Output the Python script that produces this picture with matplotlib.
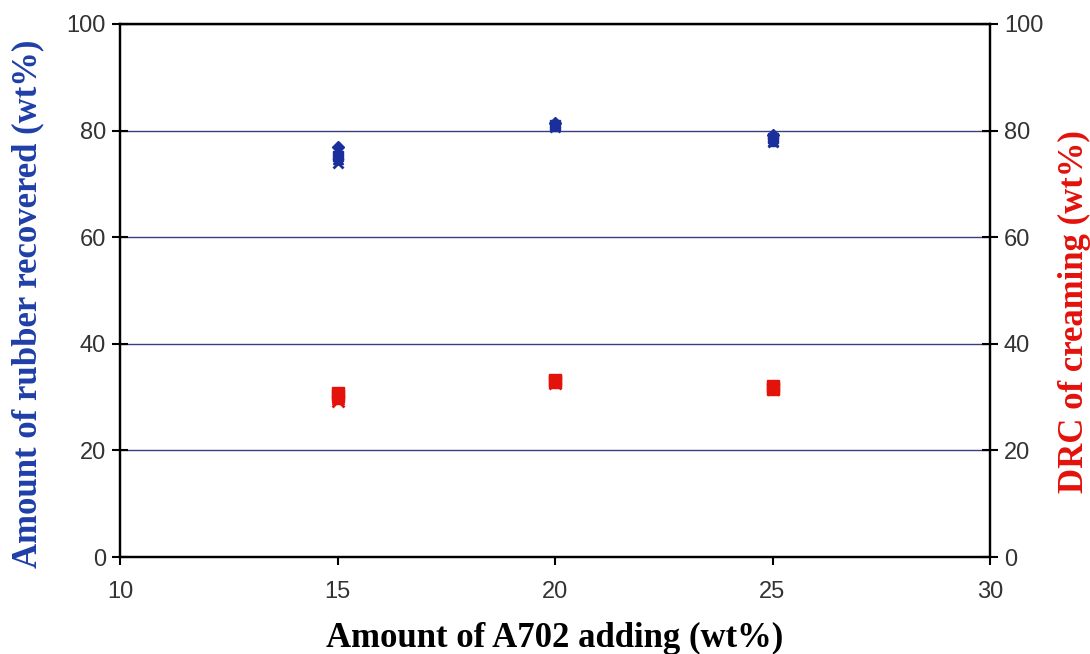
import matplotlib
matplotlib.use("Agg")
import matplotlib.pyplot as plt

x_vals = [15, 20, 25]
rubber_diamond = [76.9, 81.5, 79.2]
rubber_square = [75.2, 81.0, 78.6]
rubber_triangle = [74.6, 80.8, 78.0]
rubber_x = [74.0, 80.6, 77.8]
drc_diamond = [30.8, 33.3, 32.0]
drc_square = [30.2, 33.0, 31.8]
drc_triangle = [29.8, 32.8, 31.6]
drc_x = [29.2, 32.6, 31.5]

x_ticks = [10, 15, 20, 25, 30]
y_ticks = [0, 20, 40, 60, 80, 100]

fig = plt.figure(figsize=(10.9, 6.54), dpi=100)
ax = fig.add_axes([120/1090, 1-557/654, 870/1090, 533/654])
ax2 = ax.twinx()

blue = "#1a2e9c"
red = "#e3120b"
for vals, m in [(rubber_diamond, "D"), (rubber_square, "s"), (rubber_triangle, "^"), (rubber_x, "x")]:
    ax.plot(x_vals, vals, linestyle="none", marker=m, color=blue, markersize=7 if m != "D" else 6, mew=2 if m == "x" else 1)
for vals, m in [(drc_diamond, "s"), (drc_square, "s"), (drc_triangle, "^"), (drc_x, "x")]:
    ax2.plot(x_vals, vals, linestyle="none", marker=m, color=red, markersize=8, mew=2 if m == "x" else 1)

for a in (ax, ax2):
    a.set_ylim(0, 100)
    a.set_yticks(y_ticks)
    a.tick_params(axis="y", direction="inout", length=12, width=1.5, labelsize=17, labelcolor="#333333", pad=4)
    for lbl in a.get_yticklabels():
        lbl.set_fontfamily("Liberation Sans")
ax.set_xlim(10, 30)
ax.set_xticks(x_ticks)
ax.tick_params(axis="x", direction="out", length=6, width=1.5, labelsize=17, labelcolor="#333333", pad=11)
for lbl in ax.get_xticklabels():
    lbl.set_fontfamily("Liberation Sans")
ax.yaxis.grid(True, color="#3a3f7a", linewidth=1)
ax.set_axisbelow(True)
for s in ["top", "bottom", "left", "right"]:
    ax.spines[s].set_linewidth(1.6)
    ax2.spines[s].set_linewidth(1.6)

ax.set_xlabel("Amount of A702 adding (wt%)", fontsize=25, fontweight="bold", fontfamily="Liberation Serif", labelpad=14)
ax.set_ylabel("Amount of rubber recovered (wt%)", fontsize=25, fontweight="bold", fontfamily="Liberation Serif", color="#1f3fa8")
ax2.set_ylabel("DRC of creaming (wt%)", fontsize=25, fontweight="bold", fontfamily="Liberation Serif", color=red)
ax.yaxis.set_label_coords(-76/870, 0.475)
ax2.yaxis.set_label_coords(1 + 68/870, 0.46)

fig.savefig("out.png", dpi=100)
